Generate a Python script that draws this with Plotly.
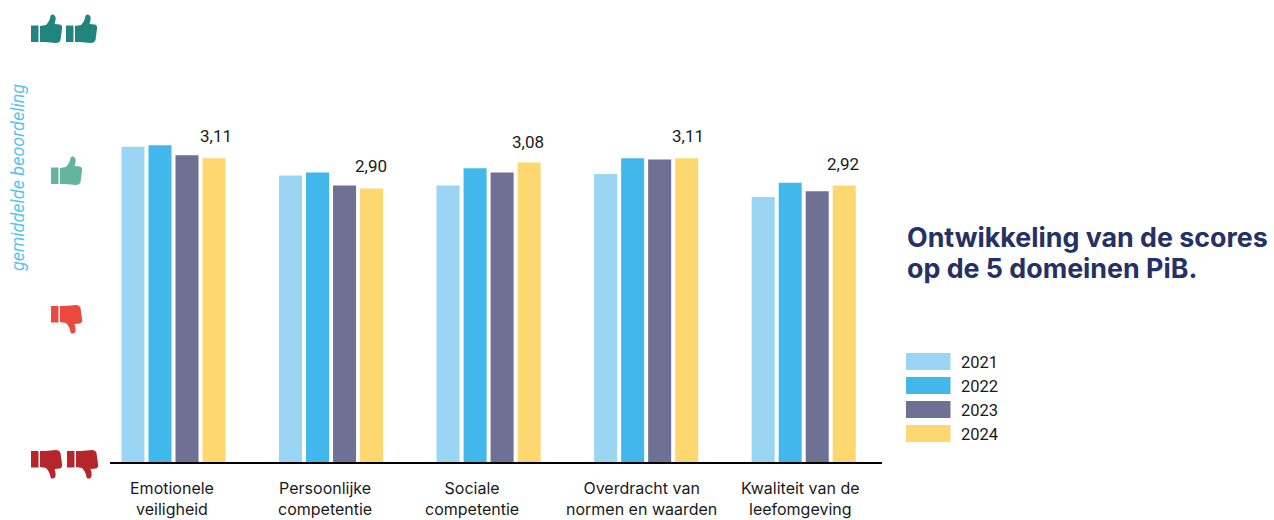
import plotly.graph_objects as go

categories = ["Emotionele<br>veiligheid", "Persoonlijke<br>competentie", "Sociale<br>competentie",
              "Overdracht van<br>normen en waarden", "Kwaliteit van de<br>leefomgeving"]
years = ["2021", "2022", "2023", "2024"]
v2021 = [3.19, 2.99, 2.92, 3.00, 2.84]
v2022 = [3.20, 3.01, 3.04, 3.11, 2.94]
v2023 = [3.13, 2.92, 3.01, 3.10, 2.88]
v2024 = [3.11, 2.90, 3.08, 3.11, 2.92]
labels_2024 = ["3,11", "2,90", "3,08", "3,11", "2,92"]
title_lines = ["Ontwikkeling van de scores", "op de 5 domeinen PiB."]
colors = ["#9AD5F3", "#42B7EB", "#6E7094", "#FFD770"]
label_shift = [-1, -6, -17, -5, -3]
value_shift = [2, -1, -1, 1, -1]
value_yshift = [22, 22, 20, 22, 22]

W, H = 1274, 520
L, R, T, B = 110, 882, 2, 462
FONT = "Roboto"
INK = "#1a1a1a"

def px(x): return (x - L) / (R - L)
def py(y): return (B - y) / (B - T)

fig = go.Figure()
for name, vals, col in zip(years, [v2021, v2022, v2023, v2024], colors):
    fig.add_bar(name=name, x=categories, y=vals, marker=dict(color=col, line_width=0), showlegend=False)

THUMB = [("M", 9, 12), ("L", 15, 11), ("C", 17, 9, 19, 6, 19.5, 2), ("C", 20, -0.5, 24, 0, 24.5, 3),
         ("C", 25, 6, 24, 8, 23.5, 10), ("L", 29, 10.5), ("C", 31, 11, 31.5, 13, 31, 15),
         ("L", 29.5, 26), ("C", 29, 28, 27, 29, 25, 29), ("L", 14, 28), ("L", 9, 28), ("Z",),
         ("M", 0, 11.5), ("L", 7.5, 11.5), ("L", 7.5, 28), ("L", 0, 28), ("Z",)]

def thumb(x0, y0, color, down=False):
    parts = []
    for seg in THUMB:
        pts = seg[1:]
        out = []
        for i in range(0, len(pts), 2):
            yy = 29 - pts[i + 1] if down else pts[i + 1]
            out.append(f"{px(x0 + pts[i]):.5f},{py(y0 + yy):.5f}")
        parts.append(seg[0] + " ".join(out))
    return dict(type="path", xref="paper", yref="paper", path=" ".join(parts),
                fillcolor=color, line_width=0, layer="above")

shapes = [thumb(31, 14, "#21857F"), thumb(66, 14, "#21857F"), thumb(51, 156, "#62B59C"),
          thumb(51, 305, "#EA4A3E", True), thumb(31, 450, "#B5262B", True), thumb(67, 450, "#B5262B", True)]

annotations = []
for i, (cat, sh) in enumerate(zip(categories, label_shift)):
    annotations.append(dict(x=i, xref="x", y=py(477.5), yref="paper", text=cat, showarrow=False, xshift=sh,
                            xanchor="center", yanchor="top", borderpad=0, borderwidth=0,
                            font=dict(family="Inter", size=16, color=INK), align="center"))
step = 27 / 157.4
for i, (v, t, sh, ys) in enumerate(zip(v2024, labels_2024, value_shift, value_yshift)):
    annotations.append(dict(x=i + 1.5 * step, xref="x", y=v, yref="y", text=t, showarrow=False, xshift=sh,
                            yshift=ys, font=dict(family=FONT, size=17, color=INK)))

for j, (name, col) in enumerate(zip(years, colors)):
    yy = 353 + 24 * j
    shapes.append(dict(type="rect", xref="paper", yref="paper", x0=px(906), x1=px(950.5), y0=py(yy), y1=py(yy + 17),
                       fillcolor=col, line_width=0))
    annotations.append(dict(x=px(959), xref="paper", y=py(yy + 9), yref="paper", text=name, showarrow=False,
                            xanchor="left", yanchor="middle", font=dict(family=FONT, size=16.5, color=INK)))

for line, yy in zip(title_lines, [237, 268]):
    annotations.append(dict(x=px(905), xref="paper", y=py(yy), yref="paper", showarrow=False, align="left",
                            xanchor="left", yanchor="middle", text=f"<b>{line}</b>",
                            font=dict(family="Inter", size=26.8, color="#253064")))
annotations.append(dict(x=px(17), xref="paper", y=py(178), yref="paper", showarrow=False, textangle=-90,
                        xanchor="center", yanchor="middle",
                        text="<i>gemiddelde beoordeling</i>",
                        font=dict(family=FONT, size=18, color="#5BC2EE")))

fig.update_layout(
    width=W, height=H, autosize=False,
    margin=dict(l=L, r=W - R, t=T, b=H - B, pad=0),
    paper_bgcolor="white", plot_bgcolor="white",
    barmode="group", bargap=0.314, bargroupgap=0.148,
    shapes=shapes, annotations=annotations,
    xaxis=dict(type="category", range=[-0.403, 4.497], showline=True, linecolor="black", linewidth=2,
               showticklabels=False, ticks="", showgrid=False, zeroline=False),
    yaxis=dict(range=[1, 1 + (B - T) / 144], visible=False, showgrid=False, zeroline=False),
)
fig.write_html("out.html", config={"displayModeBar": False},
               post_script="document.body.style.margin='0';")
